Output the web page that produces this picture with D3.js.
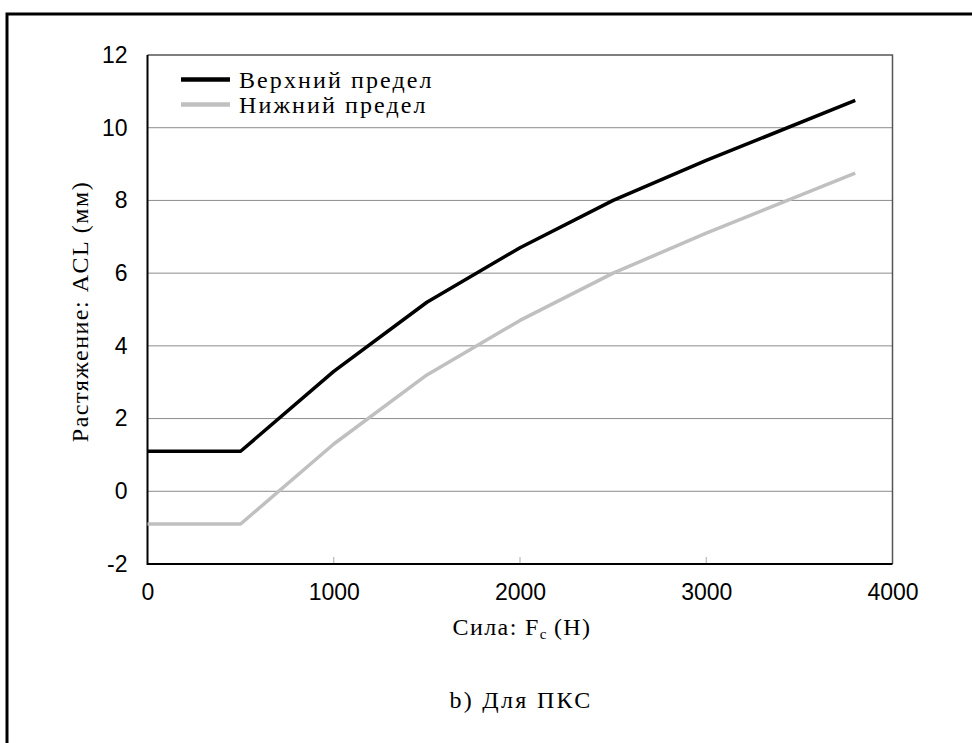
<!DOCTYPE html>
<html><head><meta charset="utf-8">
<script src="https://cdn.jsdelivr.net/npm/d3@7"></script>
<style>html,body{margin:0;padding:0;background:#fff;}svg{display:block;}</style>
</head><body>
<svg id="c" width="972" height="743"></svg>
<script>
const forceX = [0, 500, 1000, 1500, 2000, 2500, 3000, 3800];
const upperLimit = [1.1, 1.1, 3.3, 5.2, 6.7, 8.0, 9.1, 10.75];
const lowerLimit = [-0.9, -0.9, 1.3, 3.2, 4.7, 6.0, 7.1, 8.75];
const xTicks = [0, 1000, 2000, 3000, 4000];
const yTicks = [-2, 0, 2, 4, 6, 8, 10, 12];
const seriesNames = ["Верхний предел", "Нижний предел"];
const seriesColors = ["#000000", "#c0c0c0"];

const svg = d3.select("#c");
const L = 147.5, R = 892.5, T = 55, B = 564;
const x = d3.scaleLinear().domain([0, 4000]).range([L, R]);
const y = d3.scaleLinear().domain([-2, 12]).range([B, T]);
const fmt = d => String(d);

// outer frame
svg.append("rect").attr("x", 7).attr("y", 14).attr("width", 1000).attr("height", 800)
  .attr("fill", "none").attr("stroke", "#000").attr("stroke-width", 3);

// gridlines
svg.append("g").selectAll("line").data(yTicks.filter(d => d > -2 && d < 12)).join("line")
  .attr("x1", L).attr("x2", R).attr("y1", d => y(d)).attr("y2", d => y(d))
  .attr("stroke", "#8c8c8c").attr("stroke-width", 1);

// plot frame top/right
svg.append("path").attr("d", `M${L},${T}H${R}V${B}`).attr("fill", "none")
  .attr("stroke", "#555").attr("stroke-width", 1.5);

// inner x ticks
svg.append("g").selectAll("line").data(xTicks.filter(d => d > 0 && d < 4000)).join("line")
  .attr("x1", d => x(d)).attr("x2", d => x(d)).attr("y1", B).attr("y2", B - 7)
  .attr("stroke", "#aaa").attr("stroke-width", 1);

// axes
const yAxis = d3.axisLeft(y).tickValues(yTicks).tickFormat(fmt).tickSize(0).tickPadding(20);
const gy = svg.append("g").attr("transform", `translate(${L},0)`).call(yAxis);
gy.select(".domain").remove();
gy.selectAll("text").attr("font-family", "Liberation Sans, Arial, sans-serif").attr("font-size", 23).attr("fill", "#000");

const xAxis = d3.axisBottom(x).tickValues(xTicks).tickFormat(fmt).tickSize(0).tickPadding(20);
const gx = svg.append("g").attr("transform", `translate(0,${B})`).call(xAxis);
gx.select(".domain").remove();
gx.selectAll("text").attr("font-family", "Liberation Sans, Arial, sans-serif").attr("font-size", 23).attr("fill", "#000");

svg.append("path").attr("d", `M${L},${T}V${B}H${R}`).attr("fill", "none")
  .attr("stroke", "#000").attr("stroke-width", 2);

// lines
const line = d3.line().x((d, i) => x(forceX[i])).y(d => y(d));
[upperLimit, lowerLimit].forEach((s, k) => {
  svg.append("path").datum(s).attr("d", line).attr("fill", "none")
    .attr("stroke", seriesColors[k]).attr("stroke-width", 3.5).attr("stroke-linejoin", "round");
});

// legend
const serif = "Liberation Serif, Times New Roman, serif";
seriesNames.forEach((n, k) => {
  const yy = 79.5 + k * 25;
  svg.append("line").attr("x1", 181).attr("x2", 230).attr("y1", yy).attr("y2", yy)
    .attr("stroke", seriesColors[k]).attr("stroke-width", 4.5);
  svg.append("text").attr("x", 239).attr("y", yy + 8).attr("font-family", serif)
    .attr("font-size", 24).attr("letter-spacing", 2.1).text(n);
});

// axis titles
const xt = svg.append("text").attr("x", 522).attr("y", 635).attr("text-anchor", "middle")
  .attr("font-family", serif).attr("font-size", 24).attr("letter-spacing", 1.4);
xt.append("tspan").text("Сила: F");
xt.append("tspan").attr("font-size", 15).attr("dy", 4).attr("letter-spacing", 0).text("c");
xt.append("tspan").attr("dy", -4).text(" (Н)");

svg.append("text").attr("transform", `translate(88,${(T + B) / 2 + 2}) rotate(-90)`)
  .attr("text-anchor", "middle").attr("font-family", serif).attr("font-size", 24)
  .attr("letter-spacing", 1.5).text("Растяжение: ACL (мм)");

svg.append("text").attr("x", 521).attr("y", 708).attr("text-anchor", "middle")
  .attr("font-family", serif).attr("font-size", 24).attr("letter-spacing", 2.3).text("b) Для ПКС");
</script>
</body></html>
